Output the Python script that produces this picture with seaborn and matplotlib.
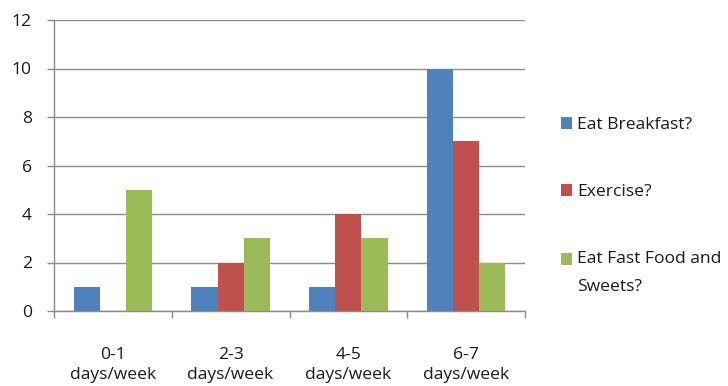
import matplotlib
matplotlib.use("Agg")
import matplotlib.pyplot as plt
import seaborn as sns
import pandas as pd
import numpy as np

categories = ["0-1\ndays/week", "2-3\ndays/week", "4-5\ndays/week", "6-7\ndays/week"]
series_names = ["Eat Breakfast?", "Exercise?", "Eat Fast Food and\nSweets?"]
breakfast = [1, 1, 1, 10]
exercise = [0, 2, 4, 7]
fast_food = [5, 3, 3, 2]
colors = ["#4F81BD", "#C0504D", "#9BBB59"]
y_ticks = [0, 2, 4, 6, 8, 10, 12]

rows = []
for name, vals in zip(series_names, [breakfast, exercise, fast_food]):
    for cat, v in zip(categories, vals):
        rows.append({"category": cat, "series": name, "value": v})
df = pd.DataFrame(rows)

sns.set_style("white")
plt.rcParams["font.family"] = ["Open Sans", "DejaVu Sans"]
FS = 12.6
TXT = "#1a1a1a"

fig = plt.figure(figsize=(7.28, 3.86), dpi=100)
ax = fig.add_axes([54 / 728, 1 - 311 / 386, (525 - 54) / 728, (311 - 20) / 386])

sns.barplot(data=df, x="category", y="value", hue="series", palette=colors,
            width=0.667, gap=0, saturation=1, ax=ax, edgecolor="none",
            linewidth=0, errorbar=None)

ax.set_xlim(-0.5, len(categories) - 0.5)
ax.set_ylim(0, 12)
ax.set_yticks(y_ticks)
ax.set_yticklabels([str(t) for t in y_ticks], fontsize=FS, color=TXT)
ax.yaxis.grid(True, color="#8c8c8c", linewidth=1)
ax.set_axisbelow(True)

# category boundaries get the tick marks, centres get the labels
ax.set_xticks(np.arange(-0.5, len(categories) + 0.5, 1.0))
ax.set_xticklabels([])
ax.set_xticks(np.arange(len(categories)), minor=True)
ax.set_xticklabels(categories, minor=True, fontsize=FS, color=TXT,
                   linespacing=1.32)
ax.tick_params(axis="x", which="major", length=5, width=1, color="#8c8c8c",
               direction="out", bottom=True)
ax.tick_params(axis="x", which="minor", length=0, pad=26)
ax.tick_params(axis="y", length=5, width=1, color="#8c8c8c", direction="out",
               left=True, pad=11)

ax.set_xlabel("")
ax.set_ylabel("")
for side in ["top", "right"]:
    ax.spines[side].set_visible(False)
for side in ["left", "bottom"]:
    ax.spines[side].set_color("#8c8c8c")
    ax.spines[side].set_linewidth(1)

handles, labels = ax.get_legend_handles_labels()
leg = ax.legend(handles, labels, loc="upper left",
                bbox_to_anchor=(561 / 728, 1 - 117 / 386),
                bbox_transform=fig.transFigure, frameon=False, fontsize=FS,
                handlelength=0.62, handleheight=0.62, handletextpad=0.3,
                labelspacing=2.92, borderaxespad=0, borderpad=0)
for t in leg.get_texts():
    t.set_color(TXT)
    t.set_linespacing(2.0)
# keep the swatch of the two-line entry level with its first line
two_line = leg.legend_handles[2]
two_line.set_y(two_line.get_y() + 10.1)

fig.savefig("out.png", dpi=100)
